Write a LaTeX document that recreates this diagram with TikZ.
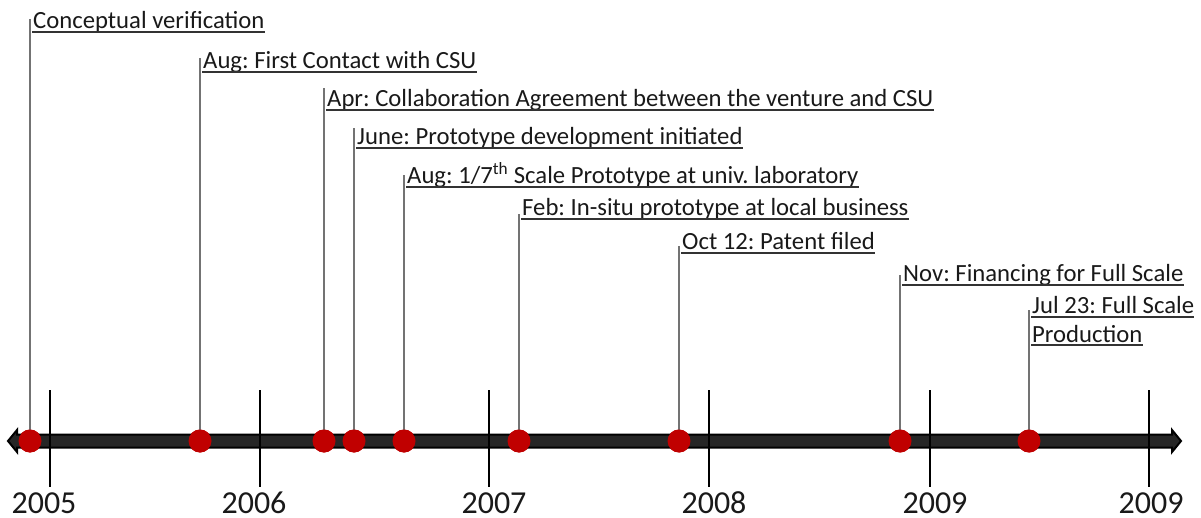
\documentclass[tikz,border=0pt]{standalone}
\usepackage{fontspec}
\setmainfont{Carlito}
\definecolor{dotred}{RGB}{192,0,0}
\definecolor{barfill}{RGB}{38,38,38}
\frenchspacing
\begin{document}
\begin{tikzpicture}[x=1pt,y=-1pt,
 evt/.style={anchor=base west, inner sep=0pt, font=\fontsize{24.7}{28}\selectfont, text=black!90},
 stem/.style={draw=black!55, line width=1.6pt},
 uline/.style={draw=black!80, line width=1.3pt},
 dot/.style={circle, fill=dotred, minimum size=23pt, inner sep=0pt},
 yeartick/.style={draw=black, line width=2.4pt},
 yr/.style={anchor=base, inner sep=0pt, font=\fontsize{32}{36}\selectfont, text=black!90},
 axisbar/.style={fill=barfill, draw=black, line width=2pt, line join=miter}]
\useasboundingbox (0,0) rectangle (1201,518);

% event dots
\node[dot] (d1) at (30,441) {};
\node[dot] (d2) at (200,441) {};
\node[dot] (d3) at (324,441) {};
\node[dot] (d4) at (354,441) {};
\node[dot] (d5) at (404,441) {};
\node[dot] (d6) at (519,441) {};
\node[dot] (d7) at (679,441) {};
\node[dot] (d8) at (900,441) {};
\node[dot] (d9) at (1029,441) {};

% stem tops
\coordinate (s1) at (30,19);
\coordinate (s2) at (200,58);
\coordinate (s3) at (324,88);
\coordinate (s4) at (354,128);
\coordinate (s5) at (404,175);
\coordinate (s6) at (519,214);
\coordinate (s7) at (679,246);
\coordinate (s8) at (900,275);
\coordinate (s9) at (1029,310);

% labels
\node[evt] (l1) at (33,29) {Conceptual verification};
\node[evt] (l2) at (203,69) {Aug: First Contact with CSU};
\node[evt] (l3) at (327,107) {Apr: Collaboration Agreement between the venture and CSU};
\node[evt] (l4) at (357,145) {June: Prototype development initiated};
\node[evt] (l5) at (407,184) {Aug: 1/7\textsuperscript{th} Scale Prototype at univ. laboratory};
\node[evt] (l6) at (522,216) {Feb: In-situ prototype at local business};
\node[evt] (l7) at (682,250) {Oct 12: Patent filed};
\node[evt] (l8) at (903,282) {Nov: Financing for Full Scale};
\node[evt] (l9a) at (1032,314) {Jul 23: Full Scale};
\node[evt] (l9b) at (1032,342) {Production};

% underlines
\foreach \n in {l1,l2,l3,l4,l5,l6,l7,l8,l9a,l9b}
  \draw[uline] ([shift={(-1,3)}]\n.base west) -- ([shift={(0,3)}]\n.base east);

% stems
\foreach \i in {1,...,9}
  \draw[stem] (d\i.center) -- (s\i);

% axis
\coordinate (aL) at (8,441);
\coordinate (aR) at (1181,441);
\draw[axisbar] (aL) -- (17,430) -- (17,434.5) -- (1172,434.5) -- (1172,430) -- (aR)
  -- (1172,452) -- (1172,447.5) -- (17,447.5) -- (17,452) -- cycle;

% dots on top of axis
\foreach \i in {1,...,9}
  \fill[dotred] (d\i) circle (11.5);

% year ticks
\foreach \x in {50,260,489,709,930,1149}
  \draw[yeartick] (\x,390) -- (\x,487);

\node[yr] (y1) at (44,513) {2005};
\node[yr] (y2) at (254,513) {2006};
\node[yr] (y3) at (494,513) {2007};
\node[yr] (y4) at (714,513) {2008};
\node[yr] (y5) at (935,513) {2009};
\node[yr] (y6) at (1151,513) {2009};
\end{tikzpicture}
\end{document}
